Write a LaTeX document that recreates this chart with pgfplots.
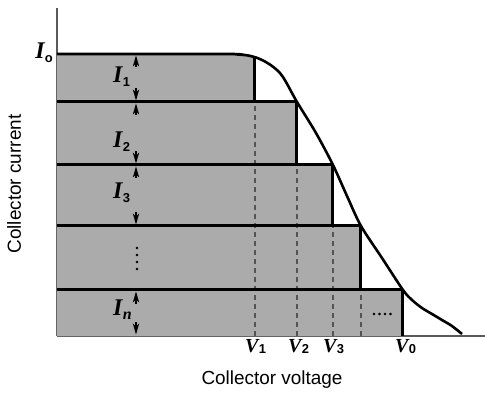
\documentclass[border=0pt]{standalone}
\usepackage{pgfplots}
\pgfplotsset{compat=1.18}
\usetikzlibrary{arrows.meta}
\usepackage{fontspec}
\setmainfont{Liberation Sans}
\newfontfamily\tms{Liberation Serif}
\definecolor{barfill}{HTML}{ABABAB}
\definecolor{axisgray}{HTML}{5A5A5A}
\definecolor{dashgray}{HTML}{555555}
\pgfdeclareplotmark{uphead}{%
  \pgfpathmoveto{\pgfqpoint{0bp}{0bp}}%
  \pgfpathlineto{\pgfqpoint{-3.2bp}{-11bp}}%
  \pgfpathlineto{\pgfqpoint{0bp}{-8bp}}%
  \pgfpathlineto{\pgfqpoint{3.2bp}{-11bp}}%
  \pgfpathclose\pgfusepathqfill
  \pgfsetlinewidth{1.2bp}%
  \pgfpathmoveto{\pgfqpoint{0bp}{-5bp}}\pgfpathlineto{\pgfqpoint{0bp}{-12bp}}\pgfusepathqstroke}
\pgfdeclareplotmark{downhead}{%
  \pgfpathmoveto{\pgfqpoint{0bp}{0bp}}%
  \pgfpathlineto{\pgfqpoint{-3.2bp}{11bp}}%
  \pgfpathlineto{\pgfqpoint{0bp}{8bp}}%
  \pgfpathlineto{\pgfqpoint{3.2bp}{11bp}}%
  \pgfpathclose\pgfusepathqfill
  \pgfsetlinewidth{1.2bp}%
  \pgfpathmoveto{\pgfqpoint{0bp}{5bp}}\pgfpathlineto{\pgfqpoint{0bp}{12bp}}\pgfusepathqstroke}
\newcommand{\Ilab}[1]{{\tms\bfseries\itshape\fontsize{24}{24}\selectfont I}\kern0.3bp\raisebox{-4bp}{\bfseries\fontsize{13}{13}\selectfont #1}}
\newcommand{\Inlab}{{\tms\bfseries\itshape\fontsize{24}{24}\selectfont I}\kern0.3bp\raisebox{-4bp}{\tms\bfseries\itshape\fontsize{16}{16}\selectfont n}}
\newcommand{\Vlab}[1]{{\tms\bfseries\itshape\fontsize{20}{20}\selectfont V}\kern0.3bp\raisebox{-1.5bp}{\bfseries\fontsize{13}{13}\selectfont #1}}
\begin{document}
\begin{tikzpicture}
\useasboundingbox (-57bp,-57bp) rectangle (428bp,336bp);
\begin{axis}[at={(0,0)}, anchor=south west, x=1bp, y=1bp,
  xmin=0, xmax=428, ymin=0, ymax=328,
  axis lines=left, axis line style={-, draw=axisgray, line width=1.3bp},
  xtick=\empty, ytick=\empty, clip=false]
% gray area (union of bars)
\addplot[fill=barfill, draw=none] coordinates {
 (0,0) (346,0) (346,46) (304,46) (304,110) (276,110) (276,171) (240,171)
 (240,234) (198,234) (198,278.8) (191,280.5) (181,281.5) (168,282) (0,282)} -- cycle;
% dashed lines
\addplot[dashgray, line width=1.2bp, dash pattern=on 5bp off 4bp] coordinates {(198,0) (198,234)};
\addplot[dashgray, line width=1.2bp, dash pattern=on 5bp off 4bp] coordinates {(240,0) (240,171)};
\addplot[dashgray, line width=1.2bp, dash pattern=on 5bp off 4bp] coordinates {(276,0) (276,110)};
\addplot[dashgray, line width=1.2bp, dash pattern=on 5bp off 4bp] coordinates {(304,0) (304,46)};
% horizontal thick lines
\addplot[black, line width=3bp] coordinates {(0,234) (240,234)};
\addplot[black, line width=3bp] coordinates {(0,171) (276,171)};
\addplot[black, line width=3bp] coordinates {(0,110) (304,110)};
\addplot[black, line width=3bp] coordinates {(0,46) (346,46)};
% vertical thick lines
\addplot[black, line width=3bp] coordinates {(198,234) (198,279.5)};
\addplot[black, line width=3bp] coordinates {(240,171) (240,234)};
\addplot[black, line width=3bp] coordinates {(276,110) (276,171)};
\addplot[black, line width=3bp] coordinates {(304,46) (304,110)};
\addplot[black, line width=3bp] coordinates {(346,0) (346,46)};
% characteristic curve
\addplot[black, line width=2.6bp, smooth, tension=0.5] coordinates {
 (0,282) (168,282) (181,281.5) (191,280.5) (199,278.5) (207,275) (215,270)
 (223,263) (229,254) (240,234) (259,203) (276,171) (290,140) (304,110)
 (325,78) (346,46) (355,36) (365,28) (375,22) (385,16) (395,10) (405,2)};
% dimension arrowheads
\addplot[only marks, mark=uphead, black] coordinates {(79,280.5) (79,232.5) (79,169.5) (79,44.5)};
\addplot[only marks, mark=downhead, black] coordinates {(79,235.5) (79,172.5) (79,111.5) (79,1.5)};
% dots
\addplot[only marks, mark=*, mark size=1.1bp, black] coordinates {(80,88) (80,81) (80,74) (80,67)};
\addplot[only marks, mark=*, mark size=1.1bp, black] coordinates {(317,22) (322.5,22) (328,22) (333.5,22)};
% labels
\node[anchor=base east, inner sep=0] at (axis cs:-4,278) {\Ilab{o}};
\node[anchor=base west, inner sep=0] at (axis cs:56,254) {\Ilab{1}};
\node[anchor=base west, inner sep=0] at (axis cs:56,189) {\Ilab{2}};
\node[anchor=base west, inner sep=0] at (axis cs:56,138) {\Ilab{3}};
\node[anchor=base west, inner sep=0] at (axis cs:56,21) {\Inlab};
\node[anchor=base west, inner sep=0] at (axis cs:188,-16) {\Vlab{1}};
\node[anchor=base west, inner sep=0] at (axis cs:231,-16) {\Vlab{2}};
\node[anchor=base west, inner sep=0] at (axis cs:266,-16) {\Vlab{3}};
\node[anchor=base west, inner sep=0] at (axis cs:338,-16) {\Vlab{0}};
\node[inner sep=0, font=\fontsize{19}{21}\selectfont] at (axis cs:215,-44) {Collector voltage};
\node[inner sep=0, rotate=90, font=\fontsize{19}{21}\selectfont] at (axis cs:-43,152) {Collector current};
\end{axis}
\end{tikzpicture}
\end{document}
